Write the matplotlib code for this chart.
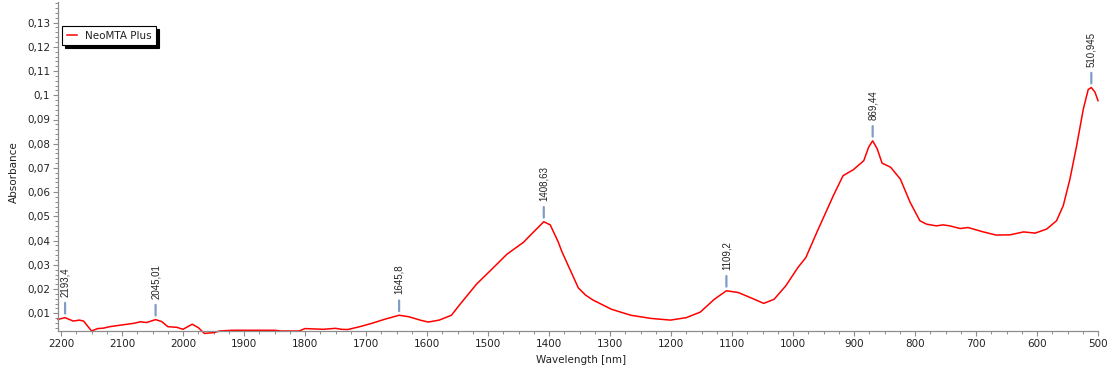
import numpy as np
import matplotlib
matplotlib.use("Agg")
import matplotlib.pyplot as plt
from matplotlib.ticker import MultipleLocator, FuncFormatter

# NIR spectrum, wavelength in nm (descending) and absorbance
wavelength = [2205, 2193.4, 2180, 2170, 2163, 2150, 2140, 2130, 2120, 2100,
              2080, 2070, 2060, 2045.01, 2035, 2025, 2010, 2000, 1985, 1975,
              1965, 1950, 1940, 1920, 1850, 1840, 1810, 1800, 1790, 1770,
              1750, 1740, 1730, 1710, 1690, 1670, 1645.8, 1630, 1610, 1598,
              1580, 1560, 1546, 1519, 1491, 1469, 1442, 1426, 1408.63, 1398,
              1385, 1379, 1352, 1340, 1328, 1298, 1266, 1233, 1201, 1175, 1152,
              1129, 1109.2, 1090, 1070, 1048, 1031, 1012, 992, 979, 961,
              934, 918, 901, 884, 876, 869.44, 862, 854, 840, 824,
              808, 792, 781, 765, 754, 743, 726, 713, 688, 667,
              644, 622, 603, 584, 568, 557, 546, 535, 524, 516,
              510.945, 505, 500]
absorbance = [0.0075, 0.0082, 0.0068, 0.0072, 0.0068, 0.0027, 0.0037, 0.0039, 0.0045, 0.0052,
              0.0059, 0.0065, 0.0062, 0.0074, 0.0066, 0.0045, 0.0042, 0.0034, 0.0055, 0.0041,
              0.0017, 0.0020, 0.0027, 0.0030, 0.0030, 0.0027, 0.0027, 0.0037, 0.0036, 0.0034,
              0.0038, 0.0034, 0.0033, 0.0045, 0.0059, 0.0075, 0.0092, 0.0086, 0.0071, 0.0064,
              0.0072, 0.0092, 0.0137, 0.0220, 0.0289, 0.0344, 0.0393, 0.0434, 0.0478, 0.0465,
              0.0395, 0.0355, 0.0205, 0.0175, 0.0155, 0.0117, 0.0092, 0.0079, 0.0072, 0.0082, 0.0105,
              0.0158, 0.0193, 0.0186, 0.0165, 0.0141, 0.0158, 0.0213, 0.0289, 0.0330, 0.0434,
              0.0585, 0.0668, 0.0693, 0.0730, 0.0786, 0.0812, 0.0779, 0.0720, 0.0703, 0.0654,
              0.0558, 0.0482, 0.0468, 0.0461, 0.0465, 0.0461, 0.0450, 0.0454, 0.0436, 0.0423,
              0.0424, 0.0436, 0.0431, 0.0448, 0.0482, 0.0544, 0.0654, 0.0792, 0.0944, 0.1024,
              0.1032, 0.1013, 0.0978]

peaks = [2193.4, 2045.01, 1645.8, 1408.63, 1109.2, 869.44, 510.945]
peak_labels = ["2193,4", "2045,01", "1645,8", "1408,63", "1109,2", "869,44", "510,945"]

fig = plt.figure(figsize=(11.18, 3.76), dpi=100)
ax = fig.add_axes([58 / 1118, 45 / 376, 1040 / 1118, 329 / 376])

ax.plot(wavelength, absorbance, color="#ff0000", lw=1.1, label="NeoMTA Plus",
        clip_on=False)

# peak markers: short bar above the peak with the rotated wavelength
for p, lab in zip(peaks, peak_labels):
    y = absorbance[wavelength.index(p)]
    ax.annotate(lab, xy=(p, y), xytext=(0, 21), textcoords="offset pixels",
                rotation=90, ha="center", va="bottom", fontsize=7,
                family="Liberation Sans", color="#222222",
                arrowprops=dict(arrowstyle="-", color="#7f9cc6", lw=1.6,
                                shrinkA=2.5, shrinkB=3))

ax.set_xlim(2205, 500)
ax.set_ylim(0.0027, 0.1385)

ax.xaxis.set_major_locator(MultipleLocator(100))
ax.xaxis.set_minor_locator(MultipleLocator(25))
ax.yaxis.set_major_locator(MultipleLocator(0.01))
ax.yaxis.set_minor_locator(MultipleLocator(0.002))
ax.yaxis.set_major_formatter(FuncFormatter(lambda v, pos: ("%g" % round(v, 3)).replace(".", ",")))

for s in ["top", "right"]:
    ax.spines[s].set_visible(False)
for s in ["left", "bottom"]:
    ax.spines[s].set_color("#8c8c8c")
    ax.spines[s].set_linewidth(0.9)

ax.tick_params(which="major", length=3.5, width=0.8, color="#8c8c8c",
               labelsize=7.5, labelcolor="#222222", pad=2)
ax.tick_params(which="minor", length=2, width=0.7, color="#8c8c8c")

ax.set_xlabel("Wavelength [nm]", fontsize=7.5, color="#222222")
ax.set_ylabel("Absorbance", fontsize=7.5, color="#222222")
ax.xaxis.set_label_coords(0.503, -0.072)
ax.yaxis.set_label_coords(-0.0375, 0.483)

leg = ax.legend(loc="upper left", bbox_to_anchor=(0.004, 0.927), borderaxespad=0,
                fontsize=7.5, fancybox=False, handlelength=1.0, handletextpad=0.7,
                borderpad=0.45, shadow={"color": "black", "alpha": 1.0})
leg.get_frame().set_edgecolor("black")
leg.get_frame().set_linewidth(0.8)
for t in leg.get_texts():
    t.set_color("#222222")

fig.savefig("out.png", dpi=100)
